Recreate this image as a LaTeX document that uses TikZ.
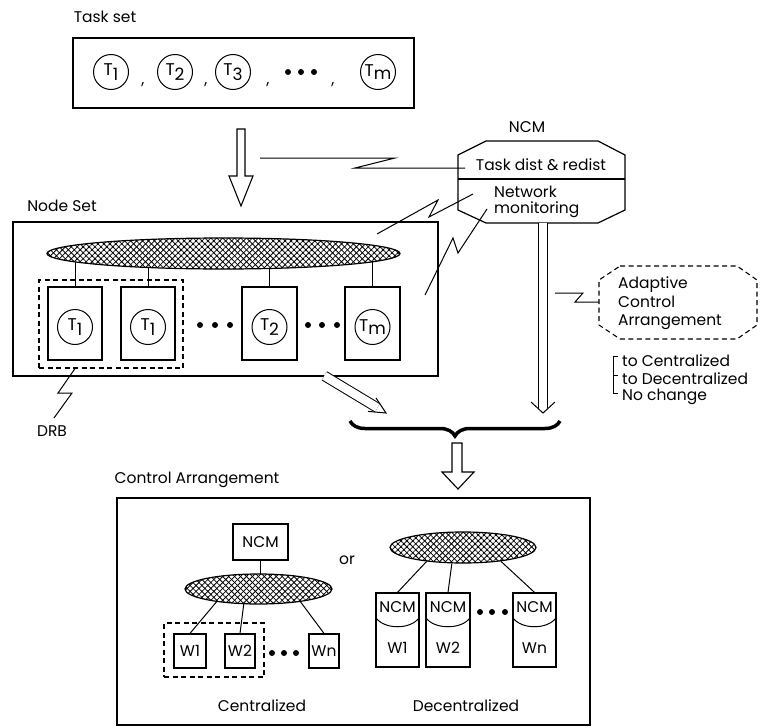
\documentclass[tikz,border=0pt]{standalone}
\usepackage{fontspec}
\setmainfont{Poppins}
\usetikzlibrary{shapes.geometric,patterns.meta,decorations.pathreplacing,backgrounds}

\newcommand{\lowsub}[1]{\raisebox{-5pt}{#1}}

\begin{document}
\begin{tikzpicture}[x=1pt,y=-1pt,line join=miter,
  every node/.style={font=\fontsize{15.5}{18.5}\selectfont,inner sep=0pt},
  frame/.style={draw,line width=1.2pt},
  dashframe/.style={draw,line width=1.1pt,dash pattern=on 5pt off 3.5pt},
  wire/.style={draw,line width=1pt},
  tcirc/.style={circle,draw,line width=1pt,minimum size=35pt,font=\fontsize{17}{18}\selectfont},
  cell/.style={rectangle,draw,line width=1.2pt},
  hatched/.style={ellipse,draw,line width=1.2pt,
    preaction={fill=white},
    preaction={pattern={Lines[angle=45,distance=4.2pt,line width=0.8pt]}},
    pattern={Lines[angle=-45,distance=4.2pt,line width=0.8pt]}},
  hollow/.style={draw,line width=1.1pt,fill=white},
  dotmark/.style={circle,fill,minimum size=6pt},
  twin/.style={double,double distance=8.5pt,line width=1pt}]

\useasboundingbox (0,0) rectangle (763,728);

% ---------- task set ----------
\node (tasklbl) at (105,17) {Task set};
\node[frame,minimum width=341pt,minimum height=70pt] (taskset) at (243.5,73) {};
\node[tcirc] (ta) at (111,72) {T\lowsub{1}};
\node[tcirc] (tb) at (175,72) {T\lowsub{2}};
\node[tcirc] (tc) at (233,72) {T\lowsub{3}};
\node[tcirc] (tm) at (378,72) {T\raisebox{-3pt}{m}};
\foreach \cx in {143,206,268,333} \node at (\cx,85) {,};
\foreach \cx [count=\i] in {288,301,314} \node[dotmark] (tdot\i) at (\cx,72) {};

% hollow arrow from task set to node set
\draw[hollow] (237,129) -- (245,129) -- (245,176) -- (253,176) -- (241,206)
  -- (229,176) -- (237,176) -- cycle;

% ---------- NCM ----------
\node (ncmlbl) at (527,127) {NCM};
\draw[frame] (486,141) -- (598,141) -- (625,155) -- (625,210) -- (598,223)
  -- (486,223) -- (458,210) -- (458,155) -- cycle;
\draw[line width=1.1pt] (458,179) -- (625,179);
\node (tdist) at (541,165) {Task dist \& redist};
\node[anchor=west] (netw) at (494,192) {Network};
\node[anchor=west] (monit) at (494,210) {monitoring};

% lightning links
\coordinate (zA) at (260,158);
\draw[wire] (zA) -- (395,158) -- (355,168) -- (465,168);
\coordinate (zB) at (473,194);
\draw[wire] (zB) -- (429,217) -- (438,200) -- (377,234);
\coordinate (zC) at (487,209);
\draw[wire] (zC) -- (458,253) -- (453,238) -- (425,295);

% ---------- node set ----------
\node (nodelbl) at (62,206) {Node Set};
\node[frame,minimum width=425pt,minimum height=154pt] (nodeset) at (225.5,299) {};
\node[hatched,minimum width=353pt,minimum height=31pt] (ring) at (223.5,253.5) {};
\node[cell,minimum width=54pt,minimum height=73pt] (n1) at (75,323.5) {};
\node[cell,minimum width=54pt,minimum height=73pt] (n2) at (148,323.5) {};
\node[cell,minimum width=55pt,minimum height=73pt] (n3) at (269.5,323.5) {};
\node[cell,minimum width=55pt,minimum height=73pt] (n4) at (372.5,323.5) {};
\node[tcirc] (c1) at (75,327) {T\lowsub{1}};
\node[tcirc] (c2) at (148,327) {T\lowsub{1}};
\node[tcirc] (c3) at (269.5,327) {T\lowsub{2}};
\node[tcirc] (c4) at (372.5,327) {T\raisebox{-3pt}{m}};
\begin{scope}[on background layer]
  \foreach \n in {n1,n2,n3,n4} \draw[wire] (\n.north) -- (\n.north |- ring.center);
\end{scope}
\foreach \cx in {200,215,230,308,322,337} \node[dotmark] at (\cx,325) {};
\node[dashframe,minimum width=144pt,minimum height=88pt] (drb) at (111,324) {};
\node (drblbl) at (52,431) {DRB};
\draw[wire] ([xshift=-36pt]drb.south) -- (58,393) -- (72,393) -- (54,418);

% double arrows towards the brace
\draw[twin] (543,223) -- (543,408);
\draw[wire] (531,402) -- (543,413) -- (555,402);
\draw[twin] (324.3,375.8) -- (377.4,407.8);
\draw[wire] (368,411.4) -- (386,413) -- (376,398);

% brace
\draw[line width=3.5pt,decorate,decoration={brace,mirror,amplitude=15pt}]
  (350,421) -- (560,421);

% hollow arrow below the brace
\draw[hollow] (452,443) -- (462,443) -- (462,472) -- (474,472) -- (458,489)
  -- (442,472) -- (452,472) -- cycle;

% ---------- adaptive control arrangement ----------
\draw[dashframe] (620,266) -- (737,266) -- (757,280) -- (757,325) -- (737,339)
  -- (620,339) -- (599,325) -- (599,280) -- cycle;
\node[anchor=west,align=left] (adapt) at (618,303.5) {Adaptive\\Control\\Arrangement};
\draw[wire] (555,293) -- (583,293) -- (575,302) -- (599,302);
\draw[line width=1pt] (618,356) -- (613,356) -- (613,393) -- (618,393);
\draw[line width=1pt] (613,375) -- (618,375);
\node[anchor=west] (optc) at (622,361) {to Centralized};
\node[anchor=west] (optd) at (622,379) {to Decentralized};
\node[anchor=west] (optn) at (622,397) {No change};

% ---------- control arrangement ----------
\node (ctrllbl) at (197,480) {Control Arrangement};
\node[frame,minimum width=473pt,minimum height=227pt] (ctrl) at (353.5,611.5) {};

% centralized
\node[cell,minimum width=55pt,minimum height=36pt] (cncm) at (260.5,542) {NCM};
\node[hatched,minimum width=147pt,minimum height=30pt] (cring) at (258.5,589) {};
\begin{scope}[on background layer]
  \draw[wire] (cncm.south) -- (cncm.south |- cring.center);
\end{scope}
\node[cell,minimum width=32pt,minimum height=34pt] (w1) at (190,651) {W1};
\node[cell,minimum width=30pt,minimum height=34pt] (w2) at (240,651) {W2};
\node[cell,minimum width=30pt,minimum height=34pt] (wn) at (324,651) {Wn};
\draw[wire] (w1.north) -- (cring.197);
\draw[wire] (w2.north) -- (cring.226);
\draw[wire] (wn.north) -- (cring.343);
\node[dashframe,minimum width=100pt,minimum height=54pt] (cgrp) at (214,650) {};
\foreach \cx in {272,284,296} \node[dotmark] at (\cx,653) {};
\node (centlbl) at (262,706) {Centralized};
\node (orlbl) at (347,560) {or};

% decentralized: worker boxes with an NCM compartment on top
\node[hatched,minimum width=146pt,minimum height=31pt] (dring) at (463,547.5) {};
\foreach \nm/\cx/\bw/\lbl in {d1/397.5/43/W1,d2/448/44/W2,dn/534.5/43/Wn}{
  \node[cell,minimum width=\bw pt,minimum height=74pt] (\nm) at (\cx,630) {};
  \draw[line width=1pt] ([yshift=13pt]\nm.west) .. controls ([xshift=8pt]\nm.west)
    and ([xshift=-8pt]\nm.east) .. ([yshift=13pt]\nm.east);
  \node at (\cx,607) {NCM};
  \node at (\cx,648) {\lbl};
}
\draw[wire] (d1.north) -- (dring.201);
\draw[wire] (d2.north) -- (dring.235);
\draw[wire] (dn.north) -- (dring.340);
\foreach \cx in {480,492,505} \node[dotmark] at (\cx,612) {};
\node (declbl) at (466,706) {Decentralized};

\end{tikzpicture}
\end{document}
